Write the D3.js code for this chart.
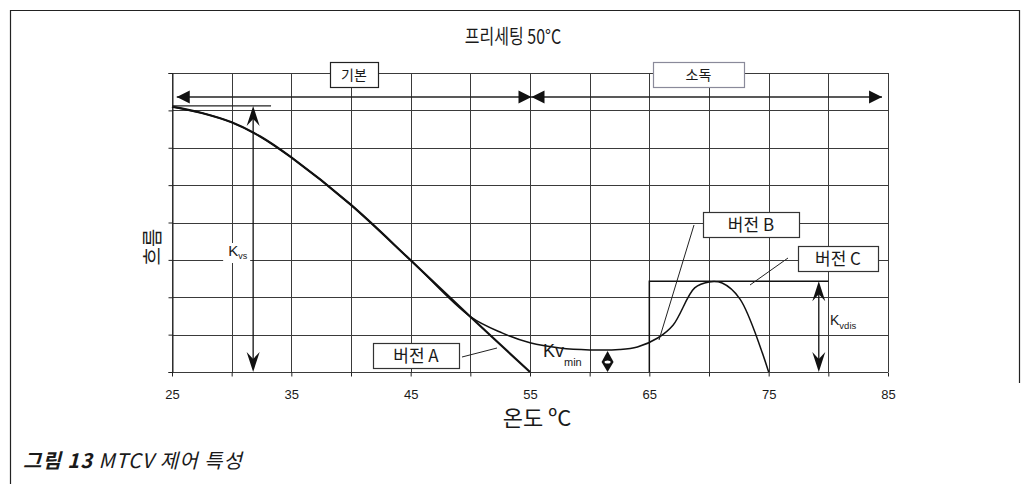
<!DOCTYPE html>
<html>
<head>
<meta charset="utf-8">
<script src="https://cdn.jsdelivr.net/npm/d3@7/dist/d3.min.js"></script>
<style>
  html, body { margin: 0; padding: 0; background: #fff; }
  svg { display: block; }
  text { font-family: "Noto Sans CJK KR", "Noto Sans", sans-serif; fill: #1a1a1a; }
  .num { font-family: "Liberation Sans", Arial, sans-serif; }
</style>
</head>
<body>
<svg id="chart" width="1026" height="484"></svg>
<script>
// Temperature axis (°C) and flow axis (relative units)
const tempTicks = [25, 30, 35, 40, 45, 50, 55, 60, 65, 70, 75, 80, 85];
const tempLabels = [25, 35, 45, 55, 65, 75, 85];
const flowTicks = [0, 1, 2, 3, 4, 5, 6, 7, 8];

// Version A: falls linearly to zero at 55 °C
const versionA = [
  [25, 7.10], [27.5, 6.93], [30, 6.68], [32.4, 6.30], [35, 5.74],
  [40, 4.47], [45, 2.99], [50, 1.48], [55, 0]
];
// Basic curve with Kv_min plateau and disinfection bump (version B)
const versionB = [
  [25, 7.10], [27.5, 6.93], [30, 6.68], [32.4, 6.30], [35, 5.74],
  [40, 4.47], [45, 2.99], [50, 1.48], [52.7, 1.04], [55, 0.78], [57.5, 0.64],
  [60, 0.59], [62.5, 0.6], [64, 0.67], [65.7, 0.91], [67, 1.26], [68.8, 2.25],
  [70, 2.41], [71.1, 2.38], [72.6, 1.95], [75, 0]
];
// Version C: step opening at 65 °C
const versionC = [[65, 0], [65, 2.43], [80, 2.43]];

const kvs = 7.12;      // top reference flow
const kvsLineEnd = 33.3;
const kvsArrowX = 31.8;
const kvMin = 0.59;
const kvMinArrowX = 61.5;
const kvdis = 2.43;
const kvdisArrowX = 79.2;
const phaseSplit = 55;  // boundary between 기본 and 소독 ranges

const svg = d3.select("#chart");
const margin = { left: 172, right: 138, top: 73, bottom: 112 };
const W = 1026, H = 484;
const x = d3.scaleLinear().domain([25, 85]).range([margin.left, W - margin.right]);
const y = d3.scaleLinear().domain([0, 8]).range([H - margin.bottom, margin.top]);

// Outer frame
svg.append("path")
  .attr("d", "M10.5,484 L10.5,10.5 L1019.5,10.5 L1019.5,383")
  .attr("fill", "none").attr("stroke", "#222").attr("stroke-width", 1.2);

// Title (narrow set)
svg.append("text").attr("transform", "translate(513,44) scale(0.8,1)").attr("text-anchor", "middle")
  .attr("font-size", 20).text("프리세팅 50°C");

// Grid
const grid = svg.append("g").attr("stroke", "#3a3a3a").attr("stroke-width", 1);
grid.selectAll("line.v").data(tempTicks).join("line")
  .attr("x1", d => Math.round(x(d)) + 0.5).attr("x2", d => Math.round(x(d)) + 0.5)
  .attr("y1", y(8)).attr("y2", y(0));
grid.selectAll("line.h").data(flowTicks).join("line")
  .attr("x1", x(25)).attr("x2", x(85))
  .attr("y1", d => Math.round(y(d)) + 0.5).attr("y2", d => Math.round(y(d)) + 0.5);

// Axes (ticks only on the left, ticks + selected labels at the bottom)
const xAxis = d3.axisBottom(x).tickValues(tempTicks).tickSize(4).tickPadding(13)
  .tickFormat(d => tempLabels.includes(d) ? d : "");
const gx = svg.append("g").attr("transform", `translate(0,${Math.round(y(0)) + 0.5})`).call(xAxis);
gx.select(".domain").remove();
gx.selectAll("line").attr("stroke", "#222");
gx.selectAll("text").attr("class", "num").attr("font-size", 13).attr("fill", "#222");

const yAxis = d3.axisLeft(y).tickValues(flowTicks).tickSize(4).tickFormat("");
const gy = svg.append("g").attr("transform", `translate(${Math.round(x(25)) + 0.5},0)`).call(yAxis);
gy.select(".domain").attr("stroke", "#222");
gy.selectAll("line").attr("stroke", "#222");

// Axis titles
svg.append("text").attr("transform", "translate(160,247) rotate(-90)")
  .attr("text-anchor", "middle").attr("font-size", 20).text("흐름");
svg.append("text").attr("x", 537).attr("y", 426).attr("text-anchor", "middle")
  .attr("font-size", 22).text("온도 ºC");

// Curves
const line = d3.line().x(d => x(d[0])).y(d => y(d[1])).curve(d3.curveCatmullRom.alpha(0.5));
svg.append("path").datum(versionB).attr("d", line)
  .attr("fill", "none").attr("stroke", "#111").attr("stroke-width", 1.5);
svg.append("path").datum(versionA).attr("d", line)
  .attr("fill", "none").attr("stroke", "#111").attr("stroke-width", 2.2);
svg.append("path").datum(versionC).attr("d", d3.line().x(d => x(d[0])).y(d => y(d[1])))
  .attr("fill", "none").attr("stroke", "#111").attr("stroke-width", 1.5);

// Range arrows at the top
const arrowY = 97;
function tri(tipX, tipY, dir) {
  const L = 13, h = 6.5;
  return `M${tipX},${tipY} L${tipX - dir * L},${tipY - h} L${tipX - dir * L},${tipY + h} Z`;
}
const rangeStart = x(25.4), rangeEnd = x(84.5), mid = x(phaseSplit) + 1.5;
svg.append("line").attr("x1", rangeStart).attr("x2", rangeEnd).attr("y1", arrowY).attr("y2", arrowY)
  .attr("stroke", "#222").attr("stroke-width", 1.3);
svg.append("path").attr("d", tri(rangeStart, arrowY, -1)).attr("fill", "#111");
svg.append("path").attr("d", tri(mid, arrowY, 1)).attr("fill", "#111");
svg.append("path").attr("d", tri(mid, arrowY, -1)).attr("fill", "#111");
svg.append("path").attr("d", tri(rangeEnd, arrowY, 1)).attr("fill", "#111");

// Labelled boxes
function box(x0, y0, w, h, label, stroke, fs) {
  svg.append("rect").attr("x", x0 + 0.5).attr("y", y0 + 0.5).attr("width", w).attr("height", h)
    .attr("fill", "#fff").attr("stroke", stroke).attr("stroke-width", 1.2);
  svg.append("text").attr("x", x0 + w / 2).attr("y", y0 + h / 2 + fs * 0.36)
    .attr("text-anchor", "middle").attr("font-size", fs).text(label);
}
box(330, 62, 48, 25, "기본", "#222", 14);
box(653, 62, 91, 25, "소독", "#8a8a9a", 14);

// Kvs reference line and arrow
function stealth(px, tipY, dir) {
  const L = 20, w = 6.5, n = 13;
  return `M${px},${tipY} L${px - w},${tipY + dir * L} L${px},${tipY + dir * n} L${px + w},${tipY + dir * L} Z`;
}
svg.append("line").attr("x1", x(25)).attr("x2", x(kvsLineEnd)).attr("y1", y(kvs)).attr("y2", y(kvs))
  .attr("stroke", "#222").attr("stroke-width", 1.2);
const kx = x(kvsArrowX);
svg.append("line").attr("x1", kx).attr("x2", kx).attr("y1", y(kvs) + 10).attr("y2", y(0) - 10)
  .attr("stroke", "#111").attr("stroke-width", 1.3);
svg.append("path").attr("d", stealth(kx, y(kvs), 1)).attr("fill", "#111");
svg.append("path").attr("d", stealth(kx, y(0), -1)).attr("fill", "#111");
svg.append("rect").attr("x", kx - 30).attr("y", 243).attr("width", 27).attr("height", 20).attr("fill", "#fff");
const kvsText = svg.append("text").attr("x", kx - 25).attr("y", 256).attr("font-size", 15)
  .attr("class", "num");
kvsText.append("tspan").text("K");
kvsText.append("tspan").attr("font-size", 9).attr("dy", 3).text("vs");

// Kv_min marker
const mx = x(kvMinArrowX);
svg.append("path").attr("d", `M${mx},${y(kvMin) + 1} L${mx - 6},${y(kvMin) + 12} L${mx + 6},${y(kvMin) + 12} Z`).attr("fill", "#111");
svg.append("path").attr("d", `M${mx},${y(0)} L${mx - 6},${y(kvMin) + 12} L${mx + 6},${y(kvMin) + 12} Z`).attr("fill", "#111");
svg.append("ellipse").attr("cx", mx).attr("cy", y(kvMin) + 12).attr("rx", 3).attr("ry", 1.5).attr("fill", "#fff");
const kvMinText = svg.append("text").attr("x", 543).attr("y", 357).attr("font-size", 18).attr("class", "num");
kvMinText.append("tspan").text("Kv");
kvMinText.append("tspan").attr("font-size", 11).attr("dy", 9).text("min");

// Kv_dis arrow
const dx = x(kvdisArrowX);
svg.append("line").attr("x1", dx).attr("x2", dx).attr("y1", y(kvdis) + 10).attr("y2", y(0) - 10)
  .attr("stroke", "#111").attr("stroke-width", 1.3);
svg.append("path").attr("d", stealth(dx, y(kvdis), 1)).attr("fill", "#111");
svg.append("path").attr("d", stealth(dx, y(0), -1)).attr("fill", "#111");
const kdText = svg.append("text").attr("x", 830).attr("y", 325).attr("font-size", 14).attr("class", "num");
kdText.append("tspan").text("K");
kdText.append("tspan").attr("font-size", 9.5).attr("dy", 4).text("vdis");

// Version callouts
function leader(x1, y1, x2, y2) {
  svg.append("line").attr("x1", x1).attr("y1", y1).attr("x2", x2).attr("y2", y2)
    .attr("stroke", "#222").attr("stroke-width", 1);
}
box(373, 343, 86, 25, "버전 A", "#333", 17);
leader(462, 357, 497, 348);
box(703, 212, 96, 25, "버전 B", "#333", 17);
leader(694, 225, 659, 340);
box(798, 246, 80, 25, "버전 C", "#333", 17);
leader(788, 258, 750, 285);

// Caption
const cap = svg.append("text").attr("x", 23).attr("y", 468).attr("font-size", 20)
  .attr("font-style", "italic").attr("letter-spacing", 1);
cap.append("tspan").attr("font-weight", "bold").text("그림 13");
cap.append("tspan").text(" MTCV 제어 특성");
</script>
</body>
</html>
